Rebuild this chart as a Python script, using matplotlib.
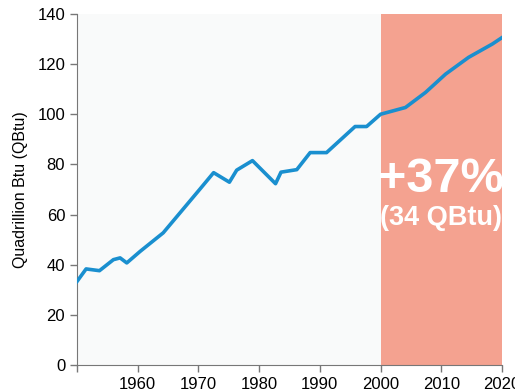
import matplotlib.pyplot as plt

plt.rcParams["font.family"] = ["Liberation Sans", "DejaVu Sans"]

years = [1950, 1951.5, 1953.7, 1956, 1957.1, 1958.2, 1960.4, 1964.2, 1970.2,
         1972.5, 1975.1, 1976.3, 1978.9, 1982.7, 1983.6, 1986.2, 1988.4,
         1991.1, 1995.8, 1997.7, 2000, 2004.1, 2007.4, 2010.7, 2014.5,
         2018.4, 2020.2]
qbtu = [33.3, 38.3, 37.6, 42.0, 42.7, 40.7, 45.3, 52.7, 70.0,
        76.7, 72.9, 77.7, 81.5, 72.3, 76.9, 77.9, 84.7,
        84.7, 95.1, 95.1, 100.0, 102.7, 108.7, 116.0, 122.7,
        128.0, 130.9]
xticks = [1950, 1960, 1970, 1980, 1990, 2000, 2010, 2020]
xlabels = ["", "1960", "1970", "1980", "1990", "2000", "2010", "2020"]
yticks = [0, 20, 40, 60, 80, 100, 120, 140]
shade = (2000, 2020)

fig = plt.figure(figsize=(5.15, 3.92), dpi=100)
ax = fig.add_axes([0.1495, 0.069, 0.8253, 0.8954])
ax.set_facecolor("#f9fafa")

ax.axvspan(shade[0], shade[1], color="#f4a290", zorder=1, lw=0)
ax.plot(years, qbtu, color="#1a8fcf", lw=2.6, zorder=3, solid_joinstyle="round")

ax.set_xlim(1950, 2020)
ax.set_ylim(0, 140)
ax.set_xticks(xticks)
ax.set_xticklabels(xlabels)
ax.set_yticks(yticks)
ax.tick_params(labelsize=12, length=5, color="#777777", width=1)
for s in ["top", "right"]:
    ax.spines[s].set_visible(False)
for s in ["left", "bottom"]:
    ax.spines[s].set_color("#777777")
ax.set_ylabel("Quadrillion Btu (QBtu)", fontsize=11.5, labelpad=7)

ax.text(2010, 73.8, "+37%", color="white", fontsize=35, fontweight="bold",
        ha="center", va="center", zorder=4)
ax.text(2010, 58.6, "(34 QBtu)", color="white", fontsize=19.5, fontweight="bold",
        ha="center", va="center", zorder=4)

fig.savefig("out.png", dpi=100)
